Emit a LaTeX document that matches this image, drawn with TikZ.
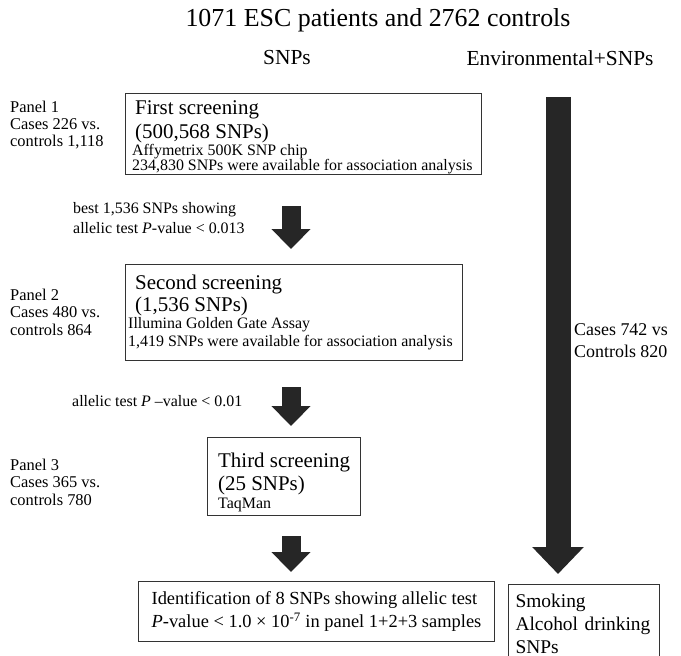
\documentclass[tikz,border=0pt]{standalone}
\usepackage{fontspec}
\setmainfont{Liberation Serif}
\usetikzlibrary{arrows.meta,calc}
\begin{document}
\begin{tikzpicture}[x=1bp,y=-1bp,
  box/.style={draw=black!80, line width=1bp, inner sep=0pt, anchor=north west},
  big/.style={font=\fontsize{21}{24}\selectfont, anchor=base west, inner sep=0pt},
  small/.style={font=\fontsize{16}{18}\selectfont, anchor=base west, inner sep=0pt},
  side/.style={font=\fontsize{16.5}{18}\selectfont, anchor=base west, inner sep=0pt},
  head/.style={font=\fontsize{21.5}{24}\selectfont, inner sep=0pt},
  blockarrow/.style={line width=19bp, draw=black!85, -{Triangle[width=38bp,length=20bp]}},
  bararrow/.style={line width=25bp, draw=black!85, -{Triangle[width=50bp,length=27bp]}}
]
\useasboundingbox (0,0) rectangle (681,656);
\clip (0,0) rectangle (681,656);

% headings
\node[font=\fontsize{26}{29}\selectfont, inner sep=0pt] (title) at (378,20) {1071 ESC patients and 2762 controls};
\node[head] (hsnp) at (287,58) {SNPs};
\node[head] (henv) at (560,58) {Environmental+SNPs};

% box 1
\node[box, minimum width=356bp, minimum height=81bp] (b1) at (125,93) {};
\node[big] (b1a) at (135,115) {First screening};
\node[big] (b1b) at (135,138) {(500,568 SNPs)};
\node[small] (b1c) at (132,155) {Affymetrix 500K SNP chip};
\node[small] (b1d) at (132,170) {234,830 SNPs were available for association analysis};

\node[side] (p1a) at (10,113) {Panel 1};
\node[side] (p1b) at (10,130) {Cases 226 vs.};
\node[side] (p1c) at (10,146) {controls 1,118};

\node[small] (c1a) at (73,213) {best 1,536 SNPs showing};
\node[small] (c1b) at (73,233) {allelic test \textit{P}-value < 0.013};

% box 2
\node[box, minimum width=337bp, minimum height=96bp] (b2) at (125,264) {};
\node[big] (b2a) at (135,289) {Second screening};
\node[big] (b2b) at (135,311) {(1,536 SNPs)};
\node[small] (b2c) at (128,328) {Illumina Golden Gate Assay};
\node[small] (b2d) at (128,346) {1,419 SNPs were available for association analysis};

\node[side] (p2a) at (10,300) {Panel 2};
\node[side] (p2b) at (10,317) {Cases 480 vs.};
\node[side] (p2c) at (10,335) {controls 864};

\node[small] (c2a) at (72,406) {allelic test \textit{P} --value < 0.01};

% box 3
\node[box, minimum width=153bp, minimum height=78bp] (b3) at (207,437) {};
\node[big] (b3a) at (218,467) {Third screening};
\node[big] (b3b) at (218,490) {(25 SNPs)};
\node[small] (b3c) at (218,508) {TaqMan};

\node[side] (p3a) at (10,470) {Panel 3};
\node[side] (p3b) at (10,487) {Cases 365 vs.};
\node[side] (p3c) at (10,505) {controls 780};

% bottom box
\node[box, minimum width=356bp, minimum height=60bp, align=left,
      font=\fontsize{18.5}{23.5}\selectfont] (b4) at (138,581)
  {Identification of 8 SNPs showing allelic test\\
   \textit{P}-value < 1.0 × 10\textsuperscript{-7} in panel 1+2+3 samples};

% right box
\node[box, minimum width=151bp, minimum height=78bp, text width=137bp, inner xsep=7bp, align=left,
      font=\fontsize{19.5}{23}\selectfont] (b5) at (508,584)
  {Smoking\\Alcohol drinking\\SNPs};

\node[font=\fontsize{18}{20}\selectfont, anchor=base west, inner sep=0pt] (r1) at (574,335) {Cases 742 vs};
\node[font=\fontsize{18}{20}\selectfont, anchor=base west, inner sep=0pt] (r2) at (574,357) {Controls 820};

% block arrows
\coordinate (a1s) at (291,206);
\coordinate (a1e) at (291,249);
\coordinate (a2s) at (291,387);
\coordinate (a2e) at (291,426);
\coordinate (a3s) at (291,536);
\coordinate (a3e) at (291,572);
\coordinate (a4s) at (558,97);
\coordinate (a4e) at (558,574);
\draw[blockarrow] (a1s) -- (a1e);
\draw[blockarrow] (a2s) -- (a2e);
\draw[blockarrow] (a3s) -- (a3e);
\draw[bararrow] (a4s) -- (a4e);
\end{tikzpicture}
\end{document}
